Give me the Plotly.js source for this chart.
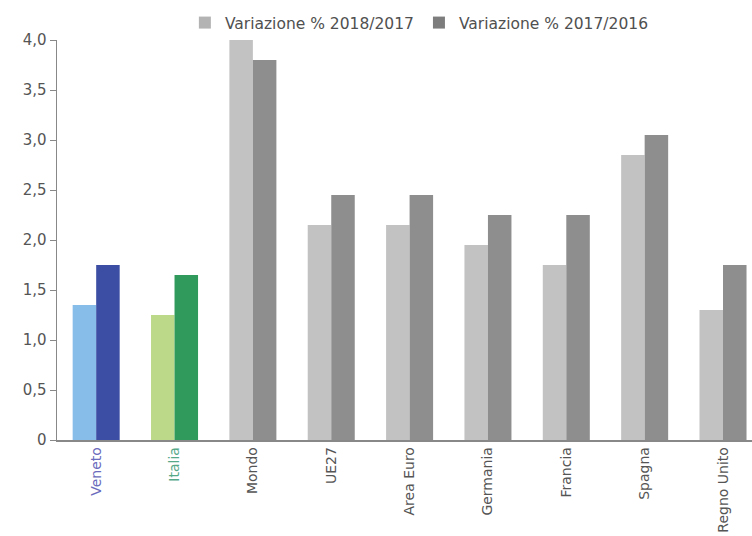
<!DOCTYPE html>
<html>
<head>
<meta charset="utf-8">
<script src="https://cdn.plot.ly/plotly-3.0.1.min.js"></script>
<style>
  html, body { margin: 0; padding: 0; background: #ffffff; }
  #chart { width: 752px; height: 536px; }
</style>
</head>
<body>
<div id="chart"></div>
<script>
// Aree geografiche
const categories = ['Veneto', 'Italia', 'Mondo', 'UE27', 'Area Euro', 'Germania', 'Francia', 'Spagna', 'Regno Unito'];

// Variazioni % annue
const var2018 = [1.35, 1.25, 4.0, 2.15, 2.15, 1.95, 1.75, 2.85, 1.3];
const var2017 = [1.75, 1.65, 3.8, 2.45, 2.45, 2.25, 2.25, 3.05, 1.75];

const seriesNames = ['Variazione % 2018/2017', 'Variazione % 2017/2016'];

// Etichette dell'asse verticale (virgola decimale)
const yTickVals = [0, 0.5, 1, 1.5, 2, 2.5, 3, 3.5, 4];
const yTickText = ['0', '0,5', '1,0', '1,5', '2,0', '2,5', '3,0', '3,5', '4,0'];

// Colori: Veneto in blu, Italia in verde, gli altri in grigio
const colors2018 = categories.map(c => c === 'Veneto' ? '#86bde9' : c === 'Italia' ? '#bcd98a' : '#c2c2c2');
const colors2017 = categories.map(c => c === 'Veneto' ? '#3c4ea3' : c === 'Italia' ? '#2f9a5c' : '#8e8e8e');
const legendColors = ['#b3b3b3', '#7d7d7d'];

const tickLabels = categories.map(c => {
  if (c === 'Veneto') return '<span style="fill:#6b6bbd">' + c + '</span>';
  if (c === 'Italia') return '<span style="fill:#55a888">' + c + '</span>';
  return c;
});

const traces = [
  {
    type: 'bar', x: categories, y: var2018, name: seriesNames[0], offsetgroup: 'a',
    marker: { color: colors2018, line: { width: 0 } }, showlegend: false, hoverinfo: 'x+y'
  },
  {
    type: 'bar', x: categories, y: var2017, name: seriesNames[1], offsetgroup: 'b',
    marker: { color: colors2017, line: { width: 0 } }, showlegend: false, hoverinfo: 'x+y'
  },
  // voci di legenda in grigio
  { type: 'bar', x: [categories[0]], y: [null], name: seriesNames[0], offsetgroup: 'a', marker: { color: legendColors[0] }, showlegend: true },
  { type: 'bar', x: [categories[0]], y: [null], name: seriesNames[1], offsetgroup: 'b', marker: { color: legendColors[1] }, showlegend: true }
];

const layout = {
  width: 752,
  height: 536,
  margin: { l: 57, r: 0, t: 40, b: 96 },
  paper_bgcolor: '#ffffff',
  plot_bgcolor: '#ffffff',
  font: { family: 'DejaVu Sans, sans-serif', size: 14, color: '#555555' },
  barmode: 'group',
  bargap: 0.4,
  bargroupgap: 0,
  showlegend: true,
  legend: {
    orientation: 'h', x: 0.184, y: 1.0, xanchor: 'left', yanchor: 'bottom',
    font: { size: 15.5, color: '#505050' }, traceorder: 'normal'
  },
  xaxis: {
    type: 'category',
    categoryorder: 'array',
    categoryarray: categories,
    tickvals: categories,
    ticktext: tickLabels,
    range: [-0.5, 8.37],
    tickangle: -90,
    tickfont: { size: 14, color: '#555555' },
    showline: true, linecolor: '#888888', linewidth: 1.5,
    ticks: '', showgrid: false, zeroline: false, automargin: false, fixedrange: true
  },
  yaxis: {
    range: [0, 4.0],
    tickvals: yTickVals,
    ticktext: yTickText,
    tickfont: { size: 15, color: '#555555' },
    showline: true, linecolor: '#888888', linewidth: 1.5,
    ticks: 'outside', ticklen: 6, tickcolor: '#888888',
    showgrid: false, zeroline: false, automargin: false, fixedrange: true
  }
};

Plotly.newPlot('chart', traces, layout, { displayModeBar: false, staticPlot: true });
</script>
</body>
</html>
